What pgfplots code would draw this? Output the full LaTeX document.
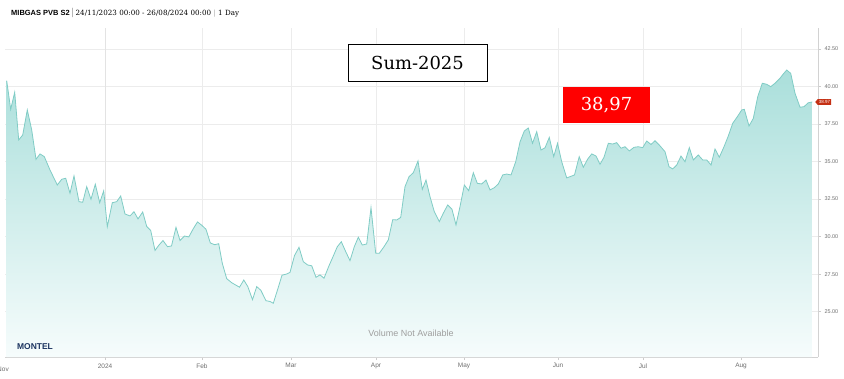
\documentclass[border=0pt]{standalone}
\usepackage{fontspec}
\setmainfont{Liberation Sans}
\newfontfamily\dserif{DejaVu Serif}
\usepackage{pgfplots}
\usepackage{pgfplotstable}
\pgfplotsset{compat=1.18}
\usetikzlibrary{shapes.symbols}
\definecolor{linec}{RGB}{128,204,197}
\definecolor{filltop}{RGB}{170,223,219}
\definecolor{fillbot}{RGB}{246,252,252}
\definecolor{gridc}{RGB}{236,236,236}
\definecolor{labc}{RGB}{110,110,110}
\definecolor{tagc}{RGB}{196,48,20}
\definecolor{montel}{RGB}{28,52,96}

\pgfplotstableread{
x v
6.7 40.39
10.7 38.48
14.7 39.62
18.7 36.44
22.7 36.77
27.3 38.44
31.7 37.11
36 35.15
40 35.51
44.3 35.33
50 34.44
57.3 33.44
61.7 33.82
65.7 33.89
70 32.89
74 34.04
79 32.33
82.7 32.29
86.7 33.33
91 32.49
95.3 33.49
99.7 32.26
103.7 33.06
107.3 30.66
112.3 32.26
116.7 32.33
120.7 32.71
125 31.51
130 31.38
134 31.66
138 31.18
142.7 31.64
146.7 30.68
150.7 30.41
155 29.08
159 29.44
163 29.74
167.5 29.33
171.5 29.38
176 30.62
180 29.74
184.5 30.04
188.8 29.98
193.3 30.53
197.5 30.98
201.7 30.76
206 30.49
210.3 29.58
214.7 29.46
218.7 29.53
222.3 28.22
226.7 27.20
231.7 26.93
239.5 26.63
243.8 27.11
247.8 26.67
252.5 25.80
256.7 26.67
260.8 26.43
266 25.73
270 25.68
273.3 25.56
277.5 26.45
282 27.43
286.7 27.51
290 27.62
294.5 28.74
299 29.29
303.3 28.33
307.7 28.11
311.7 28.06
316 27.29
320 27.45
324 27.23
329 28.06
333.3 28.71
337.3 29.33
341.3 29.66
345.7 29.00
350 28.40
354.3 29.33
358.3 29.96
362.3 29.44
366.7 29.51
371 31.93
375.7 28.89
379.3 28.89
384 29.33
388.3 29.78
392.7 31.13
396.7 31.11
400.7 31.28
405 33.33
409 33.99
413.3 34.26
418 35.04
422.3 33.15
426 33.77
430 32.66
434.3 31.66
439.3 31.00
443.3 31.56
447.7 32.11
452 31.82
456 30.78
460 32.00
464.3 33.44
468.7 33.06
473.3 34.26
477.3 33.55
481.7 33.51
486 33.77
490 33.11
494.3 33.26
498.3 33.51
502.7 34.11
506.7 34.17
511 34.11
515.7 34.99
520 36.31
524.3 37.04
528.3 37.24
532.5 36.22
536.7 36.99
541 35.77
545 35.92
549.3 36.61
553.7 35.33
557.5 36.22
561.7 34.99
566.7 33.91
574.5 34.11
579.2 35.33
583.3 34.62
587.7 35.17
591.7 35.51
596 35.37
600 34.82
604 35.29
608.3 36.22
612.7 36.17
616.7 36.26
621 35.89
625 35.99
629.3 35.71
634 35.95
638.3 35.99
642.7 35.93
646.7 36.37
651 36.14
655 36.39
659.7 36.07
665 35.66
669 34.66
672.7 34.51
676.7 34.77
681 35.37
685 34.99
689.3 35.93
693.3 35.11
698.3 35.44
702.7 35.11
706.7 35.11
711 34.77
715 35.84
719.3 35.29
724 35.99
728.3 36.71
732.7 37.55
737.3 37.99
741.7 38.44
744.3 38.48
749 37.37
753.3 37.88
757.7 39.32
762.3 40.22
766.7 40.15
770.7 39.99
775 40.22
780 40.55
783.3 40.84
786.7 41.10
790.7 40.88
795 39.55
800 38.62
804 38.66
808.3 38.92
812.3 38.97
}\pricedata

\begin{document}
\begin{tikzpicture}[x=1bp,y=1bp]
\useasboundingbox (0,0) rectangle (844,378);
\begin{axis}[
  at={(5bp,21bp)}, anchor=south west, scale only axis,
  width=813bp, height=329bp,
  xmin=5, xmax=818, ymin=21.98, ymax=43.90,
  axis x line=bottom, axis y line=right,
  axis line style={-, draw=gray!35, line width=0.6bp},
  xtick={105,202,291,376,464,558,643,741},
  xticklabels={2024,Feb,Mar,Apr,May,Jun,Jul,Aug},
  extra x ticks={105}, extra x tick labels={},
  extra x tick style={grid style={draw=gray!22, line width=0.8bp}},
  ytick={25,27.5,30,32.5,35,37.5,40,42.5},
  yticklabel style={/pgf/number format/fixed, /pgf/number format/fixed zerofill,
    /pgf/number format/precision=2, /pgf/number format/assume math mode=true,
    font=\fontsize{5.5}{6}\selectfont, text=labc},
  xticklabel style={font=\fontsize{6.5}{7}\selectfont, text=labc},
  tick align=outside, major tick length=3bp,
  tick style={draw=gray!40, line width=0.5bp},
  xmajorgrids, ymajorgrids,
  grid style={draw=gridc, line width=0.6bp},
  clip=true,
]
\addplot[draw=none, top color=filltop, bottom color=fillbot] table[x=x,y=v]{\pricedata} \closedcycle;
\addplot[draw=linec, line width=0.8bp, mark=none] table[x=x,y=v]{\pricedata};
\end{axis}
% annotations
\node[anchor=base west, inner sep=0] at (11,363)
  {{\fontsize{7.5}{9}\selectfont\bfseries MIBGAS PVB S2}\,{\color{gray!70}|}\,{\dserif\fontsize{7.2}{9}\selectfont 24/11/2023 00:00 - 26/08/2024 00:00 {\color{gray!70}|} 1 Day}};
\node[text=labc, font=\fontsize{6.5}{7}\selectfont] at (3,9) {Nov};
\node[text=gray!75, font=\fontsize{9}{10}\selectfont] at (411,45) {Volume Not Available};
\node[text=montel, font=\fontsize{8.5}{9}\selectfont\bfseries] at (35,31) {MONTEL};
\node[draw=black, line width=0.8bp, fill=white, minimum width=139bp, minimum height=37bp,
  font=\dserif\fontsize{18}{20}\selectfont] at (417.5,315.5) {Sum-2025};
\node[fill=red, text=white, minimum width=87bp, minimum height=36bp,
  font=\dserif\fontsize{18}{20}\selectfont] at (606.5,273) {38,97};
\node[signal, signal to=west, signal pointer angle=100, fill=tagc, text=white,
  font=\fontsize{4.5}{5}\selectfont, inner sep=1.2bp, anchor=west] at (815,276) {38.97};
\end{tikzpicture}
\end{document}
